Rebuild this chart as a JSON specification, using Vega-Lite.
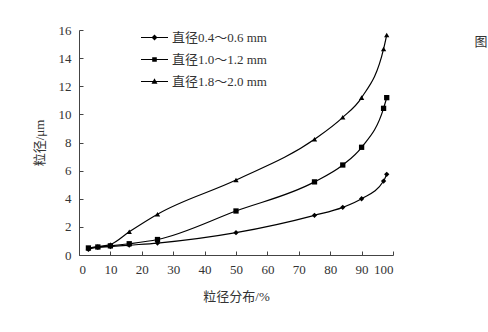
{
  "$schema": "https://vega.github.io/schema/vega-lite/v6.json",
  "autosize": {"type": "none"},
  "width": 314,
  "height": 225,
  "padding": {"left": 79, "top": 30, "right": 95, "bottom": 77},
  "background": "white",
  "config": {
    "view": {"stroke": null},
    "font": "Liberation Serif, Noto Sans CJK SC",
    "axis": {
      "grid": false,
      "domainColor": "#444",
      "tickColor": "#444",
      "tickSize": -4,
      "labelFont": "Liberation Serif",
      "labelFontSize": 13,
      "labelColor": "#333",
      "titleFont": "Liberation Serif, Noto Sans CJK SC",
      "titleFontSize": 13,
      "titleFontWeight": "normal",
      "titleColor": "#333"
    }
  },
  "title": {
    "text": "图",
    "anchor": "end",
    "fontSize": 13,
    "fontWeight": "normal",
    "color": "#333",
    "font": "Noto Sans CJK SC",
    "dx": 94,
    "dy": 30
  },
  "data": {
    "values": [
      {"x": 3, "y": 0.4, "series": "直径0.4～0.6 mm"},
      {"x": 6, "y": 0.55, "series": "直径0.4～0.6 mm"},
      {"x": 10, "y": 0.6, "series": "直径0.4～0.6 mm"},
      {"x": 16, "y": 0.7, "series": "直径0.4～0.6 mm"},
      {"x": 25, "y": 0.85, "series": "直径0.4～0.6 mm"},
      {"x": 50, "y": 1.59, "series": "直径0.4～0.6 mm"},
      {"x": 75, "y": 2.82, "series": "直径0.4～0.6 mm"},
      {"x": 84, "y": 3.39, "series": "直径0.4～0.6 mm"},
      {"x": 90, "y": 4.0, "series": "直径0.4～0.6 mm"},
      {"x": 97, "y": 5.26, "series": "直径0.4～0.6 mm"},
      {"x": 98, "y": 5.74, "series": "直径0.4～0.6 mm"},
      {"x": 3, "y": 0.5, "series": "直径1.0～1.2 mm"},
      {"x": 6, "y": 0.57, "series": "直径1.0～1.2 mm"},
      {"x": 10, "y": 0.65, "series": "直径1.0～1.2 mm"},
      {"x": 16, "y": 0.8, "series": "直径1.0～1.2 mm"},
      {"x": 25, "y": 1.1, "series": "直径1.0～1.2 mm"},
      {"x": 50, "y": 3.13, "series": "直径1.0～1.2 mm"},
      {"x": 75, "y": 5.2, "series": "直径1.0～1.2 mm"},
      {"x": 84, "y": 6.4, "series": "直径1.0～1.2 mm"},
      {"x": 90, "y": 7.66, "series": "直径1.0～1.2 mm"},
      {"x": 97, "y": 10.43, "series": "直径1.0～1.2 mm"},
      {"x": 98, "y": 11.19, "series": "直径1.0～1.2 mm"},
      {"x": 3, "y": 0.5, "series": "直径1.8～2.0 mm"},
      {"x": 6, "y": 0.6, "series": "直径1.8～2.0 mm"},
      {"x": 10, "y": 0.75, "series": "直径1.8～2.0 mm"},
      {"x": 16, "y": 1.65, "series": "直径1.8～2.0 mm"},
      {"x": 25, "y": 2.9, "series": "直径1.8～2.0 mm"},
      {"x": 50, "y": 5.33, "series": "直径1.8～2.0 mm"},
      {"x": 75, "y": 8.23, "series": "直径1.8～2.0 mm"},
      {"x": 84, "y": 9.79, "series": "直径1.8～2.0 mm"},
      {"x": 90, "y": 11.19, "series": "直径1.8～2.0 mm"},
      {"x": 97, "y": 14.65, "series": "直径1.8～2.0 mm"},
      {"x": 98, "y": 15.65, "series": "直径1.8～2.0 mm"}
    ]
  },
  "encoding": {
    "x": {
      "field": "x",
      "type": "quantitative",
      "scale": {"domain": [0, 100], "nice": false},
      "axis": {"values": [0, 10, 20, 30, 40, 50, 60, 70, 80, 90, 100], "title": "粒径分布/%", "labelPadding": 12, "titlePadding": 14}
    },
    "y": {
      "field": "y",
      "type": "quantitative",
      "scale": {"domain": [0, 16], "nice": false},
      "axis": {"values": [0, 2, 4, 6, 8, 10, 12, 14, 16], "title": "粒径/μm", "labelPadding": 12, "titlePadding": 12}
    }
  },
  "layer": [
    {
      "mark": {"type": "line", "interpolate": "monotone", "color": "black", "strokeWidth": 1.2},
      "encoding": {"detail": {"field": "series"}}
    },
    {
      "mark": {"type": "point", "filled": true, "color": "black", "opacity": 1},
      "encoding": {
        "size": {"value": 28},
        "shape": {
          "field": "series",
          "type": "nominal",
          "scale": {"domain": ["直径0.4～0.6 mm", "直径1.0～1.2 mm", "直径1.8～2.0 mm"], "range": ["diamond", "square", "triangle-up"]},
          "legend": null
        }
      }
    },
    {
      "transform": [{"filter": "false"}],
      "mark": {"type": "point", "filled": true, "color": "black", "opacity": 1},
      "encoding": {
        "shape": {
          "field": "series",
          "type": "nominal",
          "scale": {
            "domain": ["直径0.4～0.6 mm", "直径1.0～1.2 mm", "直径1.8～2.0 mm"],
            "range": [
              "M-1,-0.045L1,-0.045L1,0.045L-1,0.045ZM0,-0.22L0.22,0L0,0.22L-0.22,0Z",
              "M-1,-0.045L1,-0.045L1,0.045L-1,0.045ZM-0.17,-0.17L0.17,-0.17L0.17,0.17L-0.17,0.17Z",
              "M-1,-0.045L1,-0.045L1,0.045L-1,0.045ZM0,-0.24L0.22,0.17L-0.22,0.17Z"
            ]
          },
          "legend": {
            "title": null,
            "orient": "none",
            "legendX": 61,
            "legendY": -7,
            "padding": 0,
            "symbolSize": 729,
            "symbolFillColor": "black",
            "symbolOpacity": 1,
            "labelFont": "Liberation Serif, Noto Sans CJK SC",
            "labelFontSize": 13,
            "labelColor": "#333",
            "labelOffset": 3,
            "rowPadding": 0
          }
        }
      }
    }
  ],
  "resolve": {"scale": {"shape": "independent"}, "legend": {"shape": "independent"}}
}
